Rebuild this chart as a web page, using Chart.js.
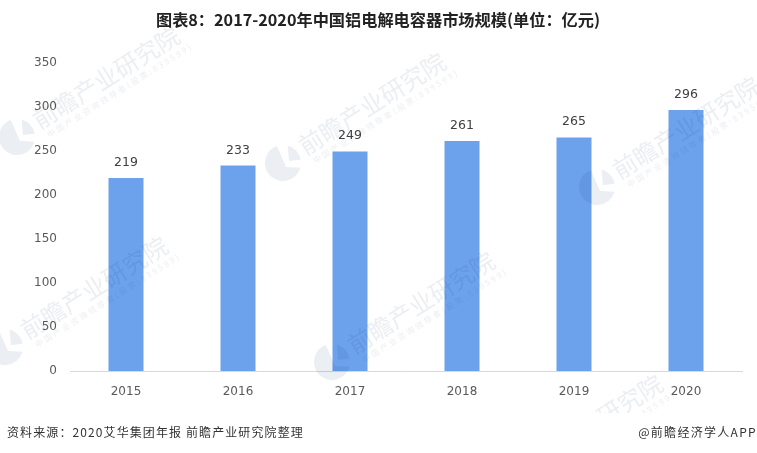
<!DOCTYPE html>
<html>
<head>
<meta charset="utf-8">
<script src="https://cdn.jsdelivr.net/npm/chart.js@4"></script>
<style>
  html, body { margin: 0; padding: 0; background: #fff; }
  #wrap { position: relative; width: 757px; height: 453px; overflow: hidden; }
  .note { position: absolute; top: 423px; font: 12px "Noto Sans CJK SC", sans-serif; color: #333; white-space: nowrap; letter-spacing: 1.1px; }
</style>
</head>
<body>
<div id="wrap">
  <canvas id="myChart" width="757" height="453"></canvas>
  <div class="note" style="left:7px">资料来源：2020艾华集团年报 前瞻产业研究院整理</div>
  <div class="note" style="right:0;letter-spacing:1.3px">@前瞻经济学人APP</div>
</div>
<script>
const years = ['2015', '2016', '2017', '2018', '2019', '2020'];
const marketSize = [219, 233, 249, 261, 265, 296];
const yTicks = [0, 50, 100, 150, 200, 250, 300, 350];
const chartTitle = '图表8：2017-2020年中国铝电解电容器市场规模(单位：亿元)';

const markText = '前瞻产业研究院';
const markSubText = '中国产业咨询领导者(股票:839599)';
// 水印的logo中心
const markSpots = [[17, 137], [283, 163], [597, 187], [5, 347], [332, 362], [500, 485]];

const watermark = {
  id: 'watermark',
  afterDatasetsDraw(chart) {
    const c = chart.ctx;
    const rad = d => d * Math.PI / 180;
    c.save();
    c.beginPath();
    c.rect(0, 0, 757, 413);
    c.clip();
    c.globalCompositeOperation = 'multiply';
    c.fillStyle = '#EBEEF3';
    markSpots.forEach(([x, y]) => {
      c.save();
      c.translate(x, y);
      // logo: two sectors with a gap at the top
      c.beginPath();
      c.moveTo(3, 4);
      c.arc(0, 0, 18, rad(15), rad(250));
      c.closePath();
      c.moveTo(6, -2);
      c.arc(0, 0, 18, rad(285), rad(350));
      c.closePath();
      c.fill();
      c.rotate(rad(-32));
      c.font = '24px "Noto Sans CJK SC"';
      c.fillText(markText, 23, 6);
      c.font = '8px "Noto Sans CJK SC"';
      c.letterSpacing = '2.4px';
      c.fillText(markSubText, 27, 18);
      c.restore();
    });
    c.restore();
  }
};

const barLabels = {
  id: 'barLabels',
  afterDatasetsDraw(chart) {
    const c = chart.ctx;
    const meta = chart.getDatasetMeta(0);
    c.save();
    c.fillStyle = '#404040';
    c.font = '12.5px "DejaVu Sans"';
    c.textAlign = 'center';
    c.textBaseline = 'bottom';
    meta.data.forEach((bar, i) => c.fillText(marketSize[i], bar.x, bar.y - 9));
    c.restore();
  }
};

new Chart(document.getElementById('myChart').getContext('2d'), {
  type: 'bar',
  data: {
    labels: years,
    datasets: [{
      data: marketSize,
      backgroundColor: '#6CA2EC',
      barPercentage: 1,
      categoryPercentage: 35 / 112
    }]
  },
  options: {
    responsive: false,
    animation: false,
    layout: { padding: { left: 14, right: 15, top: 0, bottom: 0 } },
    scales: {
      x: {
        grid: { display: false },
        border: { color: '#D9D9D9', width: 1 },
        ticks: { color: '#595959', font: { family: 'DejaVu Sans', size: 12 }, padding: 6 },
        afterFit(s) { s.height = 82; }
      },
      y: {
        min: 0,
        max: 350,
        grid: { display: false },
        border: { display: false },
        afterFit(s) { s.width = 56; },
        afterBuildTicks(s) { s.ticks = yTicks.map(v => ({ value: v })); },
        ticks: { color: '#595959', font: { family: 'DejaVu Sans', size: 12 }, padding: 5 }
      }
    },
    plugins: {
      legend: { display: false },
      tooltip: { enabled: false },
      title: {
        display: true,
        text: chartTitle,
        color: '#222',
        font: { family: 'Noto Sans CJK SC', size: 16.2, weight: 'bold' },
        padding: { top: 10, bottom: 33 }
      }
    }
  },
  plugins: [watermark, barLabels]
});
</script>
</body>
</html>
